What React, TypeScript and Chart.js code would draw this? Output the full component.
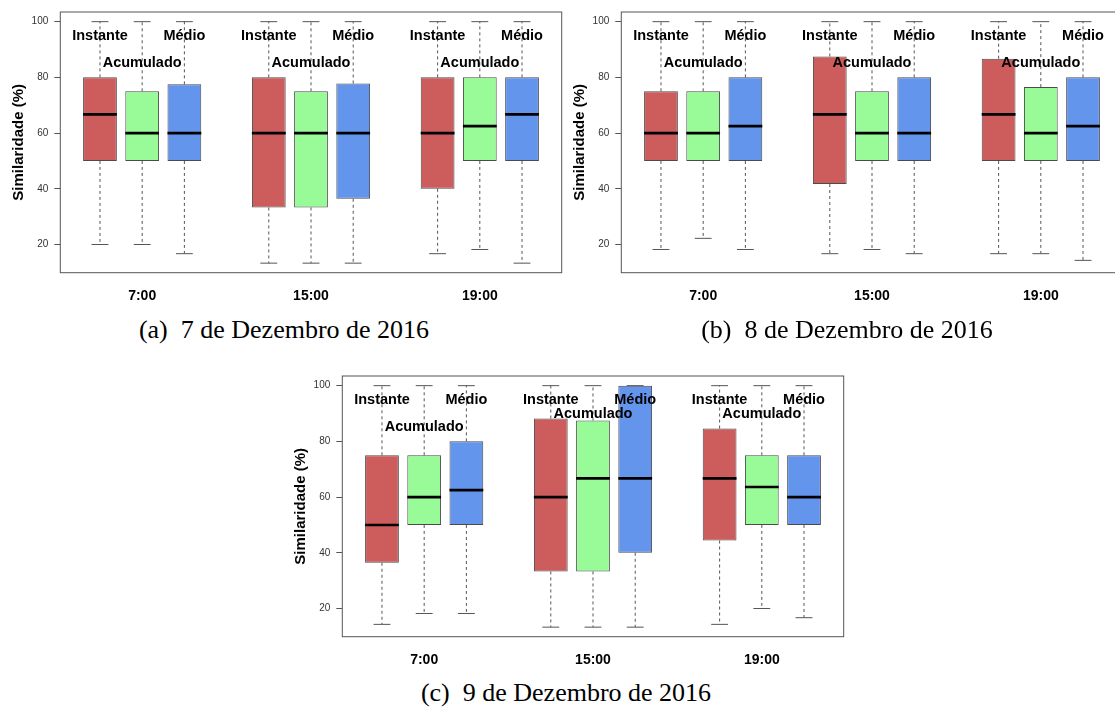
import React, { useEffect, useRef } from "react";
import { Chart, registerables } from "chart.js";

Chart.register(...registerables);

const groups = ["7:00", "15:00", "19:00"];
const seriesNames = ["Instante", "Acumulado", "Médio"];
const seriesColors = ["#CD5C5C", "#98FB98", "#6495ED"];

// each row: [min, q1, median, q3, max] for 7:00, 15:00, 19:00
const dec7Instante = [[20, 50, 66.7, 80, 100], [13.3, 33.3, 60, 80, 100], [16.7, 40, 60, 80, 100]];
const dec7Acumulado = [[20, 50, 60, 75, 100], [13.3, 33.3, 60, 75, 100], [18.2, 50, 62.5, 80, 100]];
const dec7Medio = [[16.7, 50, 60, 77.5, 100], [13.3, 36.4, 60, 77.8, 100], [13.3, 50, 66.7, 80, 100]];

const dec8Instante = [[18.2, 50, 60, 75, 100], [16.7, 41.7, 66.7, 87.5, 100], [16.7, 50, 66.7, 86.7, 100]];
const dec8Acumulado = [[22.2, 50, 60, 75, 100], [18.2, 50, 60, 75, 100], [16.7, 50, 60, 76.5, 100]];
const dec8Medio = [[18.2, 50, 62.5, 80, 100], [16.7, 50, 60, 80, 100], [14.3, 50, 62.5, 80, 100]];

const dec9Instante = [[14.3, 36.4, 50, 75, 100], [13.3, 33.3, 60, 88.2, 100], [14.3, 44.4, 66.7, 84.6, 100]];
const dec9Acumulado = [[18.2, 50, 60, 75, 100], [13.3, 33.3, 66.7, 87.5, 100], [20, 50, 63.6, 75, 100]];
const dec9Medio = [[18.2, 50, 62.5, 80, 100], [13.3, 40, 66.7, 100, 100], [16.7, 50, 60, 75, 100]];

// y value of the in-plot labels
const nameLabelY = 95;
const dec7AcumuladoLabelY = [85, 85, 85];
const dec8AcumuladoLabelY = [85, 85, 85];
const dec9AcumuladoLabelY = [85, 90, 90];

const yTicks = [20, 40, 60, 80, 100];
const yMin = 9.87;
const yMax = 103.47;
const xMin = 0.06;
const xMax = 11.94;

const SANS = '"Liberation Sans", Arial, Helvetica, sans-serif';

function posOf(g: number, s: number) {
  return g * 4 + s + 1;
}

type PanelProps = {
  series: number[][][];
  acumY: number[];
  left: number;
  top: number;
  width: number;
  height: number;
};

function Panel({ series, acumY, left, top, width, height }: PanelProps) {
  const ref = useRef<HTMLCanvasElement>(null);
  useEffect(() => {
    if (!ref.current) return;
    const boxDatasets: any[] = series.map((data, s) => ({
      type: "bar",
      label: seriesNames[s],
      data: data.map((d, g) => ({ x: posOf(g, s), y: [d[1], d[3]] })),
      backgroundColor: seriesColors[s],
      borderColor: "#4a4a4a",
      borderWidth: 1,
      borderSkipped: false,
      grouped: false,
      barPercentage: 0.8,
      categoryPercentage: 1,
      order: 2,
    }));
    const whisk: any[] = [];
    const caps: any[] = [];
    const meds: any[] = [];
    series.forEach((data, s) =>
      data.forEach((d, g) => {
        const x = posOf(g, s);
        whisk.push({ x, y: d[3] }, { x, y: d[4] }, { x, y: null }, { x, y: d[1] }, { x, y: d[0] }, { x, y: null });
        caps.push(
          { x: x - 0.2, y: d[4] }, { x: x + 0.2, y: d[4] }, { x, y: null },
          { x: x - 0.2, y: d[0] }, { x: x + 0.2, y: d[0] }, { x, y: null }
        );
        meds.push({ x: x - 0.4, y: d[2] }, { x: x + 0.4, y: d[2] }, { x, y: null });
      })
    );
    const lineBase = { type: "line", pointRadius: 0, pointHoverRadius: 0, spanGaps: false, fill: false, tension: 0 };
    const datasets: any[] = [
      { ...lineBase, label: "whiskers", data: whisk, borderColor: "#555", borderWidth: 1, borderDash: [3, 3], order: 4 },
      { ...lineBase, label: "caps", data: caps, borderColor: "#555", borderWidth: 1, order: 4 },
      ...boxDatasets,
      { ...lineBase, label: "medians", data: meds, borderColor: "#000", borderWidth: 2.6, order: 1 },
    ];

    const labelPlugin = {
      id: "boxLabels",
      afterDatasetsDraw(chart: any) {
        const { ctx, scales } = chart;
        const xs = scales.x;
        const ys = scales.y;
        ctx.save();
        ctx.font = `bold 14.5px ${SANS}`;
        ctx.fillStyle = "#000";
        ctx.textAlign = "center";
        ctx.textBaseline = "middle";
        groups.forEach((_, g) =>
          seriesNames.forEach((name, s) => {
            const v = s === 1 ? acumY[g] : nameLabelY;
            ctx.fillText(name, xs.getPixelForValue(posOf(g, s)), ys.getPixelForValue(v));
          })
        );
        const a = chart.chartArea;
        ctx.strokeStyle = "#555";
        ctx.lineWidth = 1;
        ctx.setLineDash([]);
        ctx.strokeRect(a.left, a.top, a.right - a.left, a.bottom - a.top);
        ctx.restore();
      },
    };

    const chart = new Chart(ref.current, {
      type: "bar",
      data: { datasets },
      options: {
        animation: false,
        responsive: true,
        maintainAspectRatio: false,
        layout: { padding: { top: 11.3, right: width - 561.7, bottom: 0, left: 0 } },
        plugins: { legend: { display: false }, tooltip: { enabled: false } },
        events: [],
        scales: {
          x: {
            type: "linear",
            min: xMin,
            max: xMax,
            offset: false,
            grid: { display: false, drawTicks: false },
            border: { display: false },
            afterBuildTicks: (sc: any) => {
              sc.ticks = groups.map((_, g) => ({ value: posOf(g, 1) }));
            },
            afterFit: (sc: any) => {
              sc.height = height - 272.7;
            },
            ticks: {
              autoSkip: false,
              maxRotation: 0,
              minRotation: 0,
              padding: 15,
              color: "#000",
              font: { family: SANS, size: 14, weight: "bold" },
              callback: (v: any) => groups[(Number(v) - 2) / 4] ?? "",
            },
          },
          y: {
            type: "linear",
            min: yMin,
            max: yMax,
            grid: { display: true, drawOnChartArea: false, drawTicks: true, tickLength: 6, color: "#555" },
            border: { display: false },
            afterBuildTicks: (sc: any) => {
              sc.ticks = yTicks.map((v) => ({ value: v }));
            },
            afterFit: (sc: any) => {
              sc.width = 60.3;
            },
            ticks: {
              padding: 6,
              color: "#333",
              font: { family: SANS, size: 10 },
              callback: (v: any) => String(v),
            },
            title: {
              display: true,
              text: "Similaridade (%)",
              color: "#000",
              padding: { top: 10, bottom: 0 },
              font: { family: SANS, size: 15, weight: "bold" },
            },
          },
        },
      } as any,
      plugins: [labelPlugin],
    } as any);
    return () => chart.destroy();
  }, []);
  return (
    <div style={{ position: "absolute", left, top, width, height }}>
      <canvas ref={ref} />
    </div>
  );
}

function Caption({ tag, text, cx, cy }: { tag: string; text: string; cx: number; cy: number }) {
  return (
    <div
      style={{
        position: "absolute",
        left: cx - 250,
        top: cy - 16,
        width: 500,
        height: 32,
        lineHeight: "32px",
        textAlign: "center",
        fontFamily: '"Liberation Serif", "Times New Roman", serif',
        fontSize: 26,
        color: "#000",
        whiteSpace: "nowrap",
      }}
    >
      <span style={{ marginRight: 13 }}>{tag}</span>
      <span>{text}</span>
    </div>
  );
}

export default function App() {
  return (
    <div
      style={{
        position: "absolute",
        left: 0,
        top: 0,
        width: 1115,
        height: 709,
        overflow: "hidden",
        background: "#fff",
      }}
    >
      <Panel series={[dec7Instante, dec7Acumulado, dec7Medio]} acumY={dec7AcumuladoLabelY} left={0} top={0} width={566} height={300} />
      <Panel series={[dec8Instante, dec8Acumulado, dec8Medio]} acumY={dec8AcumuladoLabelY} left={561.1} top={-0.3} width={566} height={300} />
      <Panel series={[dec9Instante, dec9Acumulado, dec9Medio]} acumY={dec9AcumuladoLabelY} left={282} top={364.4} width={566} height={300} />
      <Caption tag="(a)" text="7 de Dezembro de 2016" cx={284} cy={330} />
      <Caption tag="(b)" text="8 de Dezembro de 2016" cx={847} cy={330} />
      <Caption tag="(c)" text="9 de Dezembro de 2016" cx={566} cy={693} />
    </div>
  );
}
